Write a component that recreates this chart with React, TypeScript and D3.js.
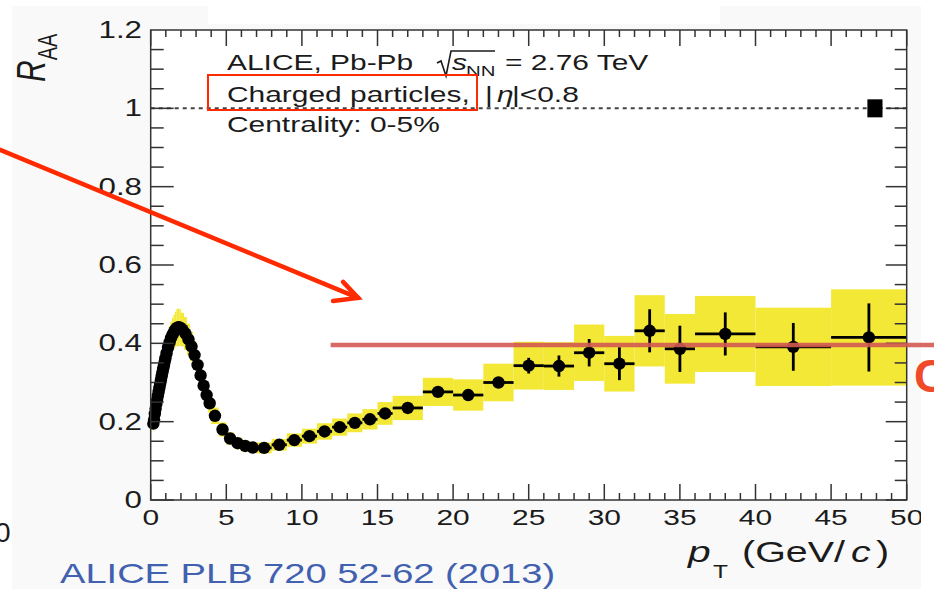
import React from 'react';
import * as d3 from 'd3';

// pT bins (GeV/c) and R_AA values
const binLo = [0.15, 0.2, 0.25, 0.3, 0.35, 0.4, 0.45, 0.5, 0.55, 0.6, 0.65, 0.7, 0.75, 0.8, 0.85, 0.9, 0.95,
  1.0, 1.1, 1.2, 1.3, 1.4, 1.5, 1.6, 1.7, 1.8, 1.9,
  2.0, 2.2, 2.4, 2.6, 2.8, 3.0, 3.2, 3.4, 3.6, 3.8,
  4.0, 4.5, 5.0, 5.5, 6.0, 6.5,
  7, 8, 9, 10, 11, 12, 13, 14, 15,
  16, 18, 20, 22, 24, 26, 28, 30, 32, 34,
  36, 40, 45];
const binHi = [0.2, 0.25, 0.3, 0.35, 0.4, 0.45, 0.5, 0.55, 0.6, 0.65, 0.7, 0.75, 0.8, 0.85, 0.9, 0.95, 1.0,
  1.1, 1.2, 1.3, 1.4, 1.5, 1.6, 1.7, 1.8, 1.9, 2.0,
  2.2, 2.4, 2.6, 2.8, 3.0, 3.2, 3.4, 3.6, 3.8, 4.0,
  4.5, 5.0, 5.5, 6.0, 6.5, 7,
  8, 9, 10, 11, 12, 13, 14, 15, 16,
  18, 20, 22, 24, 26, 28, 30, 32, 34, 36,
  40, 45, 50];
const raa = [0.195, 0.205, 0.22, 0.233, 0.245, 0.256, 0.266, 0.276, 0.286, 0.296, 0.306, 0.316, 0.326, 0.335, 0.344, 0.353, 0.362,
  0.375, 0.39, 0.403, 0.414, 0.423, 0.43, 0.436, 0.44, 0.441, 0.44,
  0.435, 0.425, 0.41, 0.392, 0.37, 0.345, 0.318, 0.292, 0.268, 0.247,
  0.215, 0.18, 0.157, 0.145, 0.138, 0.134,
  0.133, 0.141, 0.153, 0.163, 0.175, 0.186, 0.197, 0.206, 0.221,
  0.235, 0.276, 0.268, 0.3, 0.343, 0.342, 0.376, 0.348, 0.432, 0.386,
  0.424, 0.391, 0.415];
const statErr = [0.002, 0.002, 0.002, 0.002, 0.002, 0.002, 0.002, 0.002, 0.002, 0.002, 0.002, 0.002, 0.002, 0.002, 0.002, 0.002, 0.002,
  0.002, 0.002, 0.002, 0.002, 0.002, 0.002, 0.002, 0.002, 0.002, 0.002,
  0.002, 0.002, 0.002, 0.002, 0.002, 0.002, 0.002, 0.002, 0.002, 0.002,
  0.002, 0.002, 0.002, 0.002, 0.002, 0.002,
  0.002, 0.003, 0.003, 0.003, 0.004, 0.004, 0.004, 0.005, 0.005,
  0.006, 0.008, 0.009, 0.011, 0.02, 0.027, 0.035, 0.042, 0.055, 0.059,
  0.055, 0.061, 0.087];
const sysErr = [0.02, 0.021, 0.022, 0.023, 0.025, 0.026, 0.027, 0.028, 0.029, 0.03, 0.031, 0.032, 0.033, 0.034, 0.034, 0.035, 0.036,
  0.037, 0.039, 0.04, 0.041, 0.042, 0.043, 0.045, 0.048, 0.048, 0.047,
  0.043, 0.042, 0.04, 0.038, 0.036, 0.033, 0.03, 0.028, 0.026, 0.024,
  0.021, 0.018, 0.016, 0.015, 0.014, 0.014,
  0.014, 0.015, 0.017, 0.019, 0.021, 0.022, 0.024, 0.026, 0.029,
  0.031, 0.036, 0.04, 0.048, 0.061, 0.061, 0.072, 0.071, 0.091, 0.089,
  0.097, 0.1, 0.123];

const normUnc = 0.023; // box at R_AA = 1
const xTickLabels = ['0', '5', '10', '15', '20', '25', '30', '35', '40', '45', '50'];
const yTickLabels = ['0', '0.2', '0.4', '0.6', '0.8', '1', '1.2'];

const SX = 1.36; // the pasted figure is stretched horizontally
const FONT = 'Liberation Sans, Arial, Helvetica, sans-serif';
const INK = '#1b1b1b';
const RED = '#ff2a00';

const T = ({ x, y, size, anchor = 'start', fill = INK, children, italic = false }: any) => (
  <g transform={`translate(${x},${y}) scale(${SX},1)`}>
    <text fontSize={size} textAnchor={anchor} fill={fill} fontFamily={FONT}
      fontStyle={italic ? 'italic' : 'normal'}>{children}</text>
  </g>
);

const App = () => {
  const left = 150.7, right = 906.7, top = 30, bottom = 500;
  const x = d3.scaleLinear().domain([0, 50]).range([left, right]);
  const y = d3.scaleLinear().domain([0, 1.2]).range([bottom, top]);
  const pts = raa.map((v, i) => ({ lo: binLo[i], hi: binHi[i], c: (binLo[i] + binHi[i]) / 2, v, st: statErr[i], sy: sysErr[i] }));

  const xMinor = d3.range(0, 51, 1);
  const yMinor = d3.range(0, 24, 1).map(k => k * 0.05);

  return (
    <svg width={934} height={589} style={{ position: 'absolute', left: 0, top: 0 }}>
      <defs>
        <clipPath id="fig"><rect x={12} y={6} width={909} height={583} /></clipPath>
      </defs>
      <rect width={934} height={589} fill="#fff" />
      <g clipPath="url(#fig)">
        <rect x={12} y={24} width={909} height={565} fill="#f9f9f9" />
        <rect x={12} y={6} width={196} height={18} fill="#f9f9f9" />
        <rect x={720} y={6} width={201} height={18} fill="#f9f9f9" />
        <rect x={left} y={top} width={right - left} height={bottom - top} fill="#fff" />

        {/* reference line at 1 */}
        <line x1={left} x2={right} y1={y(1)} y2={y(1)} stroke="#444" strokeWidth={2} strokeDasharray="4,4" />

        {/* systematic boxes */}
        {pts.map((p, i) => (
          <rect key={'s' + i} x={x(p.lo)} width={x(p.hi) - x(p.lo)} y={y(p.v + p.sy)} height={y(p.v - p.sy) - y(p.v + p.sy)} fill="#f3e836" />
        ))}
        {/* stat + bin-width bars */}
        {pts.map((p, i) => (
          <g key={'e' + i} stroke="#000" strokeWidth={2.8}>
            <line x1={x(p.lo)} x2={x(p.hi)} y1={y(p.v)} y2={y(p.v)} />
            <line x1={x(p.c)} x2={x(p.c)} y1={y(p.v - p.st)} y2={y(p.v + p.st)} />
          </g>
        ))}
        {pts.map((p, i) => (
          <circle key={'m' + i} cx={x(p.c)} cy={y(p.v)} r={6.2} fill="#000" />
        ))}

        {/* normalisation box */}
        <rect x={x(47.4)} width={x(48.4) - x(47.4)} y={y(1 + normUnc)} height={y(1 - normUnc) - y(1 + normUnc)} fill="#000" />

        {/* frame and ticks */}
        <g stroke="#333" strokeWidth={1.5}>
          {xMinor.map(t => {
            const major = t % 5 === 0;
            const len = major ? 16 : 7;
            return (
              <g key={'xt' + t}>
                <line x1={x(t)} x2={x(t)} y1={bottom} y2={bottom - len} />
                <line x1={x(t)} x2={x(t)} y1={top} y2={top + len} />
              </g>
            );
          })}
          {yMinor.map((t, k) => {
            const major = k % 4 === 0;
            return (
              <g key={'yt' + k}>
                <line x1={left} x2={left + (major ? 23 : 13)} y1={y(t)} y2={y(t)} />
                <line x1={right} x2={right - (major ? 21 : 12)} y1={y(t)} y2={y(t)} />
              </g>
            );
          })}
          <rect x={left} y={top} width={right - left} height={bottom - top} fill="none" />
        </g>

        {xTickLabels.map(l => (
          <T key={'xl' + l} x={x(+l)} y={525} size={22} anchor="middle">{l}</T>
        ))}
        {yTickLabels.map(l => (
          <T key={'yl' + l} x={142} y={y(+l) + 8} size={23} anchor="end">{l}</T>
        ))}

        {/* axis titles */}
        <g transform={`translate(45,82) scale(${SX},1) rotate(-90)`}>
          <text fontFamily={FONT} fill={INK} fontSize={30} fontStyle="italic">R
            <tspan fontSize={20} fontStyle="normal" dy={9}>AA</tspan>
          </text>
        </g>
        <T x={688} y={562} size={30} italic>p</T>
        <T x={713} y={578} size={18}>T</T>
        <T x={742} y={562} size={29}>(GeV/</T>
        <T x={851} y={562} size={29} italic>c</T>
        <T x={876} y={562} size={29}>)</T>

        {/* legend */}
        <T x={227} y={70} size={22}>ALICE, Pb-Pb</T>
        <path d="M437,63 L441,61 L446,76 L451,51 L495,51" fill="none" stroke={INK} strokeWidth={1.6} />
        <T x={452} y={70} size={22} italic>s</T>
        <T x={466} y={76} size={15}>NN</T>
        <T x={505} y={70} size={22}>= 2.76 TeV</T>
        <T x={227} y={102} size={22}>Charged particles,</T>
        <T x={485} y={102} size={22}>|</T>
        <T x={497} y={102} size={22} italic>η</T>
        <T x={512} y={102} size={22}>|&lt;0.8</T>
        <T x={227} y={132} size={22}>Centrality: 0-5%</T>

        <T x={60} y={583} size={28} fill="#4161b0">ALICE PLB 720 52-62 (2013)</T>
      </g>

      {/* slide annotations */}
      <text x={-5} y={542} fontSize={28} fontFamily={FONT} fill={INK}>0</text>
      <rect x={208} y={75} width={269} height={35} fill="none" stroke={RED} strokeWidth={2} />
      <line x1={x(11.9)} x2={934} y1={y(0.396)} y2={y(0.396)} stroke="#d35a52" strokeWidth={4.5} opacity={0.9} />
      <text x={914} y={392} fontSize={46} fontWeight="bold" fontFamily={FONT} fill="#f04a2a">C</text>
      <g stroke={RED} strokeWidth={4.5} strokeLinecap="round" fill="none">
        <line x1={x(-9.96)} y1={y(0.894)} x2={x(13.72)} y2={y(0.516)} />
        <polyline points={`${x(12.06)},${y(0.508)} ${x(13.72)},${y(0.516)} ${x(12.72)},${y(0.557)}`} />
      </g>
    </svg>
  );
};

export default App;
